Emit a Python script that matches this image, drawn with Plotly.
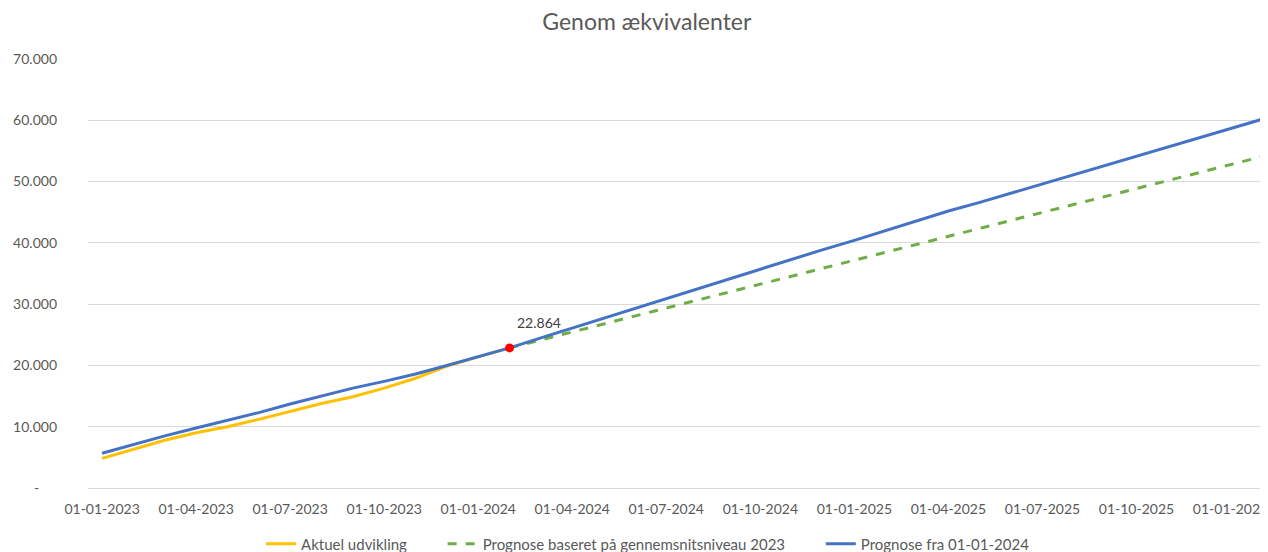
import plotly.graph_objects as go

months = [
    "01-01-2023", "01-02-2023", "01-03-2023", "01-04-2023", "01-05-2023", "01-06-2023",
    "01-07-2023", "01-08-2023", "01-09-2023", "01-10-2023", "01-11-2023", "01-12-2023",
    "01-01-2024", "01-02-2024", "01-03-2024", "01-04-2024", "01-05-2024", "01-06-2024",
    "01-07-2024", "01-08-2024", "01-09-2024", "01-10-2024", "01-11-2024", "01-12-2024",
    "01-01-2025", "01-02-2025", "01-03-2025", "01-04-2025", "01-05-2025", "01-06-2025",
    "01-07-2025", "01-08-2025", "01-09-2025", "01-10-2025", "01-11-2025", "01-12-2025",
    "01-01-2026", "01-02-2026",
]

aktuel = [4840, 6300, 7800, 9000, 10000, 11200, 12450, 13800, 14900, 16300,
          17900, 19900, 21400, 22864]

prognose_gns_2023 = [22864, 24164, 25464, 26764, 28064, 29364, 30664, 31964, 33264,
                     34564, 35864, 37164, 38464, 39764, 41064, 42364, 43664, 44964,
                     46264, 47564, 48864, 50164, 51464, 52764, 54064]

prognose_2024 = [5660, 7100, 8500, 9800, 11000, 12300, 13700, 15000, 16300, 17400,
                 18600, 20000, 21450, 22864, 24500, 26100, 27700, 29300, 30900, 32500,
                 34100, 35800, 37300, 38900, 40400, 42000, 43600, 45200, 46600, 48100,
                 49700, 51200, 52700, 54200, 55700, 57100, 58600, 60160]

marker_month = "01-02-2024"
marker_value = 22864
marker_label = "22.864"

NB = "\u00a0"
y_ticks = [0, 10000, 20000, 30000, 40000, 50000, 60000, 70000]
y_ticktext = ["-" + NB * 5, "10.000", "20.000", "30.000", "40.000", "50.000", "60.000", "70.000"]
x_tickvals = months[0::3]

FONT = "Lato"
TXT = "#595959"
GRID = "#d9d9d9"

fig = go.Figure()

fig.add_trace(go.Scatter(
    x=months[:len(aktuel)], y=aktuel, mode="lines", name="Aktuel udvikling" + NB * 8,
    line=dict(color="#FFC000", width=3),
))
fig.add_trace(go.Scatter(
    x=months[len(months) - len(prognose_gns_2023):], y=prognose_gns_2023, mode="lines",
    name="Prognose baseret på gennemsnitsniveau 2023" + NB * 8,
    line=dict(color="#70AD47", width=3, dash="dash"),
))
fig.add_trace(go.Scatter(
    x=months, y=prognose_2024, mode="lines", name="Prognose fra 01-01-2024",
    line=dict(color="#4472C4", width=3),
))
fig.add_trace(go.Scatter(
    x=[marker_month], y=[marker_value], mode="markers", showlegend=False,
    marker=dict(color="#FF0000", size=9),
))

fig.add_annotation(
    x=marker_month, y=marker_value, text=marker_label, showarrow=False,
    xshift=29, yshift=25, font=dict(family=FONT, size=14, color="#404040"),
)

# page adds an 8px body margin: figure is sized/positioned to compensate
fig.update_layout(
    width=1260, height=544,
    margin=dict(l=80, r=0, t=51, b=64),
    paper_bgcolor="white", plot_bgcolor="white",
    font=dict(family=FONT, color=TXT),
    title=dict(text="Genom ækvivalenter", x=0.507, xanchor="center", y=0.974, yanchor="middle",
               font=dict(family=FONT, size=23, color=TXT)),
    showlegend=True,
    legend=dict(orientation="h", xref="container", yref="container", x=0.508, xanchor="center",
                y=0.0147, yanchor="middle", font=dict(family=FONT, size=15, color=TXT),
                traceorder="normal"),
    xaxis=dict(type="category", categoryorder="array", categoryarray=months,
               range=[-0.45, 37.1], tickvals=x_tickvals, ticktext=x_tickvals,
               showgrid=False, showline=True, linecolor=GRID, linewidth=1,
               ticks="", tickfont=dict(family=FONT, size=14, color=TXT), ticklabelstandoff=8),
    yaxis=dict(range=[0, 70000], tickvals=y_ticks, ticktext=y_ticktext,
               showgrid=True, gridcolor=GRID, gridwidth=1, zeroline=False,
               ticks="", tickfont=dict(family=FONT, size=14, color=TXT), ticklabelstandoff=30),
)

fig.write_html("out.html")
